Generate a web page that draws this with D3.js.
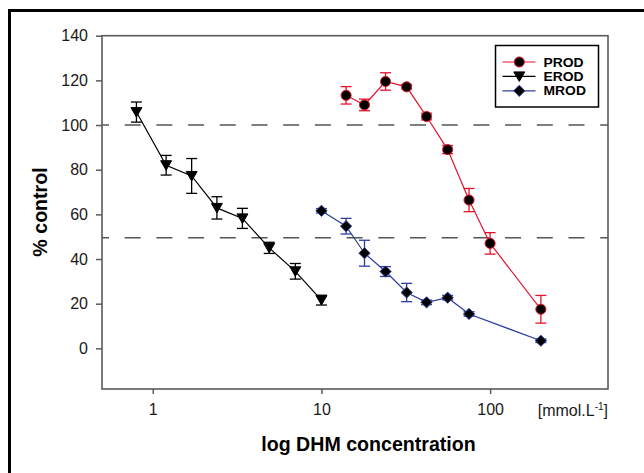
<!DOCTYPE html>
<html>
<head>
<meta charset="utf-8">
<script src="https://cdn.jsdelivr.net/npm/d3@7"></script>
<style>
  body { margin: 0; background: #fff; }
  svg { display: block; font-family: Arial, 'Liberation Sans', sans-serif; }
</style>
</head>
<body>
<div id="chart"></div>
<script>
// concentrations (mmol/L) and % control
const erodConc = [0.8, 1.2, 1.7, 2.4, 3.4, 4.9, 7, 10];
const erodValue = [105.8, 82, 77.2, 62.9, 58.2, 45, 34.5, 21.6];
const erodErr = [4.5, 4.4, 7.8, 5, 4.5, 2.5, 3.5, 2.2];

const mrodConc = [10, 14, 18, 24, 32, 42, 56, 75, 200];
const mrodValue = [61.6, 54.7, 42.6, 34.4, 25, 20.6, 22.7, 15.4, 3.4];
const mrodErr = [1, 3.5, 5.8, 2.2, 4.1, 1, 1, 1, 0.8];

const prodConc = [14, 18, 24, 32, 42, 56, 75, 100, 200];
const prodValue = [113.3, 109, 119.5, 117.1, 103.8, 89, 66.4, 47, 17.5];
const prodErr = [3.9, 2.6, 3.9, 1, 1.5, 1.8, 5.2, 4.8, 6.2];

const refLines = [100, 49.5];
const yTicks = [0, 20, 40, 60, 80, 100, 120, 140];
const xTicks = [1, 10, 100];

const series = [
  { name: 'PROD', conc: prodConc, value: prodValue, err: prodErr, color: '#e3132c', marker: 'circle' },
  { name: 'EROD', conc: erodConc, value: erodValue, err: erodErr, color: '#000000', marker: 'triangleDown' },
  { name: 'MROD', conc: mrodConc, value: mrodValue, err: mrodErr, color: '#2e3d9c', marker: 'diamond' }
];

const width = 644, height = 473;
const plot = { left: 102, right: 608, top: 35.7, bottom: 389 };

const x = d3.scaleLog().domain([0.5, 500]).range([plot.left, plot.right]);
const y = d3.scaleLinear().domain([-18.2, 140]).range([plot.bottom, plot.top]);

const svg = d3.select('#chart').append('svg')
  .attr('width', width)
  .attr('height', height);

// outer frame, runs off the right and bottom edges
svg.append('rect')
  .attr('x', 9.5).attr('y', 10.5)
  .attr('width', 700).attr('height', 500)
  .attr('fill', 'none')
  .attr('stroke', '#000')
  .attr('stroke-width', 3);

// plot box
svg.append('rect')
  .attr('x', plot.left).attr('y', plot.top)
  .attr('width', plot.right - plot.left)
  .attr('height', plot.bottom - plot.top)
  .attr('fill', 'none')
  .attr('stroke', '#5a5a5a')
  .attr('stroke-width', 1.6);

// reference lines
svg.append('g')
  .selectAll('line')
  .data(refLines)
  .join('line')
  .attr('x1', plot.left).attr('x2', plot.right)
  .attr('y1', d => y(d)).attr('y2', d => y(d))
  .attr('stroke', '#555')
  .attr('stroke-width', 1.5)
  .attr('stroke-dasharray', '16,15.7')
  .attr('stroke-dashoffset', 9);

// y axis
const yAxis = svg.append('g')
  .attr('transform', `translate(${plot.left},0)`)
  .call(d3.axisLeft(y).tickValues(yTicks).tickSize(6).tickPadding(8).tickFormat(d3.format('d')));
yAxis.select('.domain').remove();
yAxis.selectAll('line').attr('stroke', '#5a5a5a').attr('stroke-width', 1.5);
yAxis.selectAll('text').attr('font-size', 16).attr('fill', '#1a1a1a').attr('font-family', null);

// x axis
const xAxis = svg.append('g')
  .attr('transform', `translate(0,${plot.bottom})`)
  .call(d3.axisBottom(x).tickValues(xTicks).tickSize(5).tickPadding(10).tickFormat(d3.format('d')));
xAxis.select('.domain').remove();
xAxis.selectAll('line').attr('stroke', '#5a5a5a').attr('stroke-width', 1.5);
xAxis.selectAll('text').attr('font-size', 16).attr('fill', '#1a1a1a').attr('font-family', null);

// unit label
const unit = svg.append('text')
  .attr('x', plot.right).attr('y', 416)
  .attr('text-anchor', 'end')
  .attr('font-size', 16)
  .attr('fill', '#1a1a1a');
unit.append('tspan').text('[mmol.L');
unit.append('tspan').attr('dy', -6).attr('font-size', 10).text('-1');
unit.append('tspan').attr('dy', 6).text(']');

// axis titles
svg.append('text')
  .attr('x', 368.5).attr('y', 450.5)
  .attr('text-anchor', 'middle')
  .attr('font-size', 19.6)
  .attr('font-weight', 'bold')
  .text('log DHM concentration');

svg.append('text')
  .attr('transform', 'translate(47,212) rotate(-90)')
  .attr('text-anchor', 'middle')
  .attr('font-size', 19.6)
  .attr('font-weight', 'bold')
  .text('% control');

// marker shapes
const markerPath = m => {
  if (m === 'triangleDown') return 'M-5.5,-4.5L5.5,-4.5L0,5Z';
  if (m === 'diamond') return 'M0,-5.6L5.6,0L0,5.6L-5.6,0Z';
  return d3.symbol().type(d3.symbolCircle).size(80)();
};

// draw series in back-to-front order
const drawOrder = [series[1], series[2], series[0]];

drawOrder.forEach(s => {
  const pts = s.conc.map((c, i) => ({ c, v: s.value[i], e: s.err[i] }));
  const g = svg.append('g');

  // error bars
  const eb = g.append('g')
    .attr('stroke', s.color)
    .attr('stroke-width', 1.3)
    .selectAll('g')
    .data(pts)
    .join('g');
  eb.append('line')
    .attr('x1', d => x(d.c)).attr('x2', d => x(d.c))
    .attr('y1', d => y(d.v - d.e)).attr('y2', d => y(d.v + d.e));
  eb.append('line')
    .attr('x1', d => x(d.c) - 5.5).attr('x2', d => x(d.c) + 5.5)
    .attr('y1', d => y(d.v + d.e)).attr('y2', d => y(d.v + d.e));
  eb.append('line')
    .attr('x1', d => x(d.c) - 5.5).attr('x2', d => x(d.c) + 5.5)
    .attr('y1', d => y(d.v - d.e)).attr('y2', d => y(d.v - d.e));

  // connecting line
  g.append('path')
    .datum(pts)
    .attr('fill', 'none')
    .attr('stroke', s.color)
    .attr('stroke-width', 1.2)
    .attr('d', d3.line().x(d => x(d.c)).y(d => y(d.v)));

  // markers
  g.append('g')
    .selectAll('path')
    .data(pts)
    .join('path')
    .attr('transform', d => `translate(${x(d.c)},${y(d.v)})`)
    .attr('d', markerPath(s.marker))
    .attr('fill', '#000')
    .attr('stroke', s.color)
    .attr('stroke-width', 1);
});

// legend
const legend = svg.append('g');
legend.append('rect')
  .attr('x', 495.5).attr('y', 45.5)
  .attr('width', 103).attr('height', 61.5)
  .attr('fill', '#fff')
  .attr('stroke', '#000')
  .attr('stroke-width', 1.5);

const legendRows = legend.selectAll('g.row')
  .data(series)
  .join('g')
  .attr('class', 'row')
  .attr('transform', (d, i) => `translate(0,${62 + i * 14.4})`);

legendRows.append('line')
  .attr('x1', 502.5).attr('x2', 535.5)
  .attr('stroke', d => d.color)
  .attr('stroke-width', 1.2);

legendRows.append('path')
  .attr('transform', 'translate(519.3,0)')
  .attr('d', d => markerPath(d.marker))
  .attr('fill', '#000')
  .attr('stroke', d => d.color)
  .attr('stroke-width', 1);

legendRows.append('text')
  .attr('transform', 'translate(543.5,4.6) scale(1.12,1)')
  .attr('font-size', 12.4)
  .attr('font-weight', 'bold')
  .text(d => d.name);
</script>
</body>
</html>
